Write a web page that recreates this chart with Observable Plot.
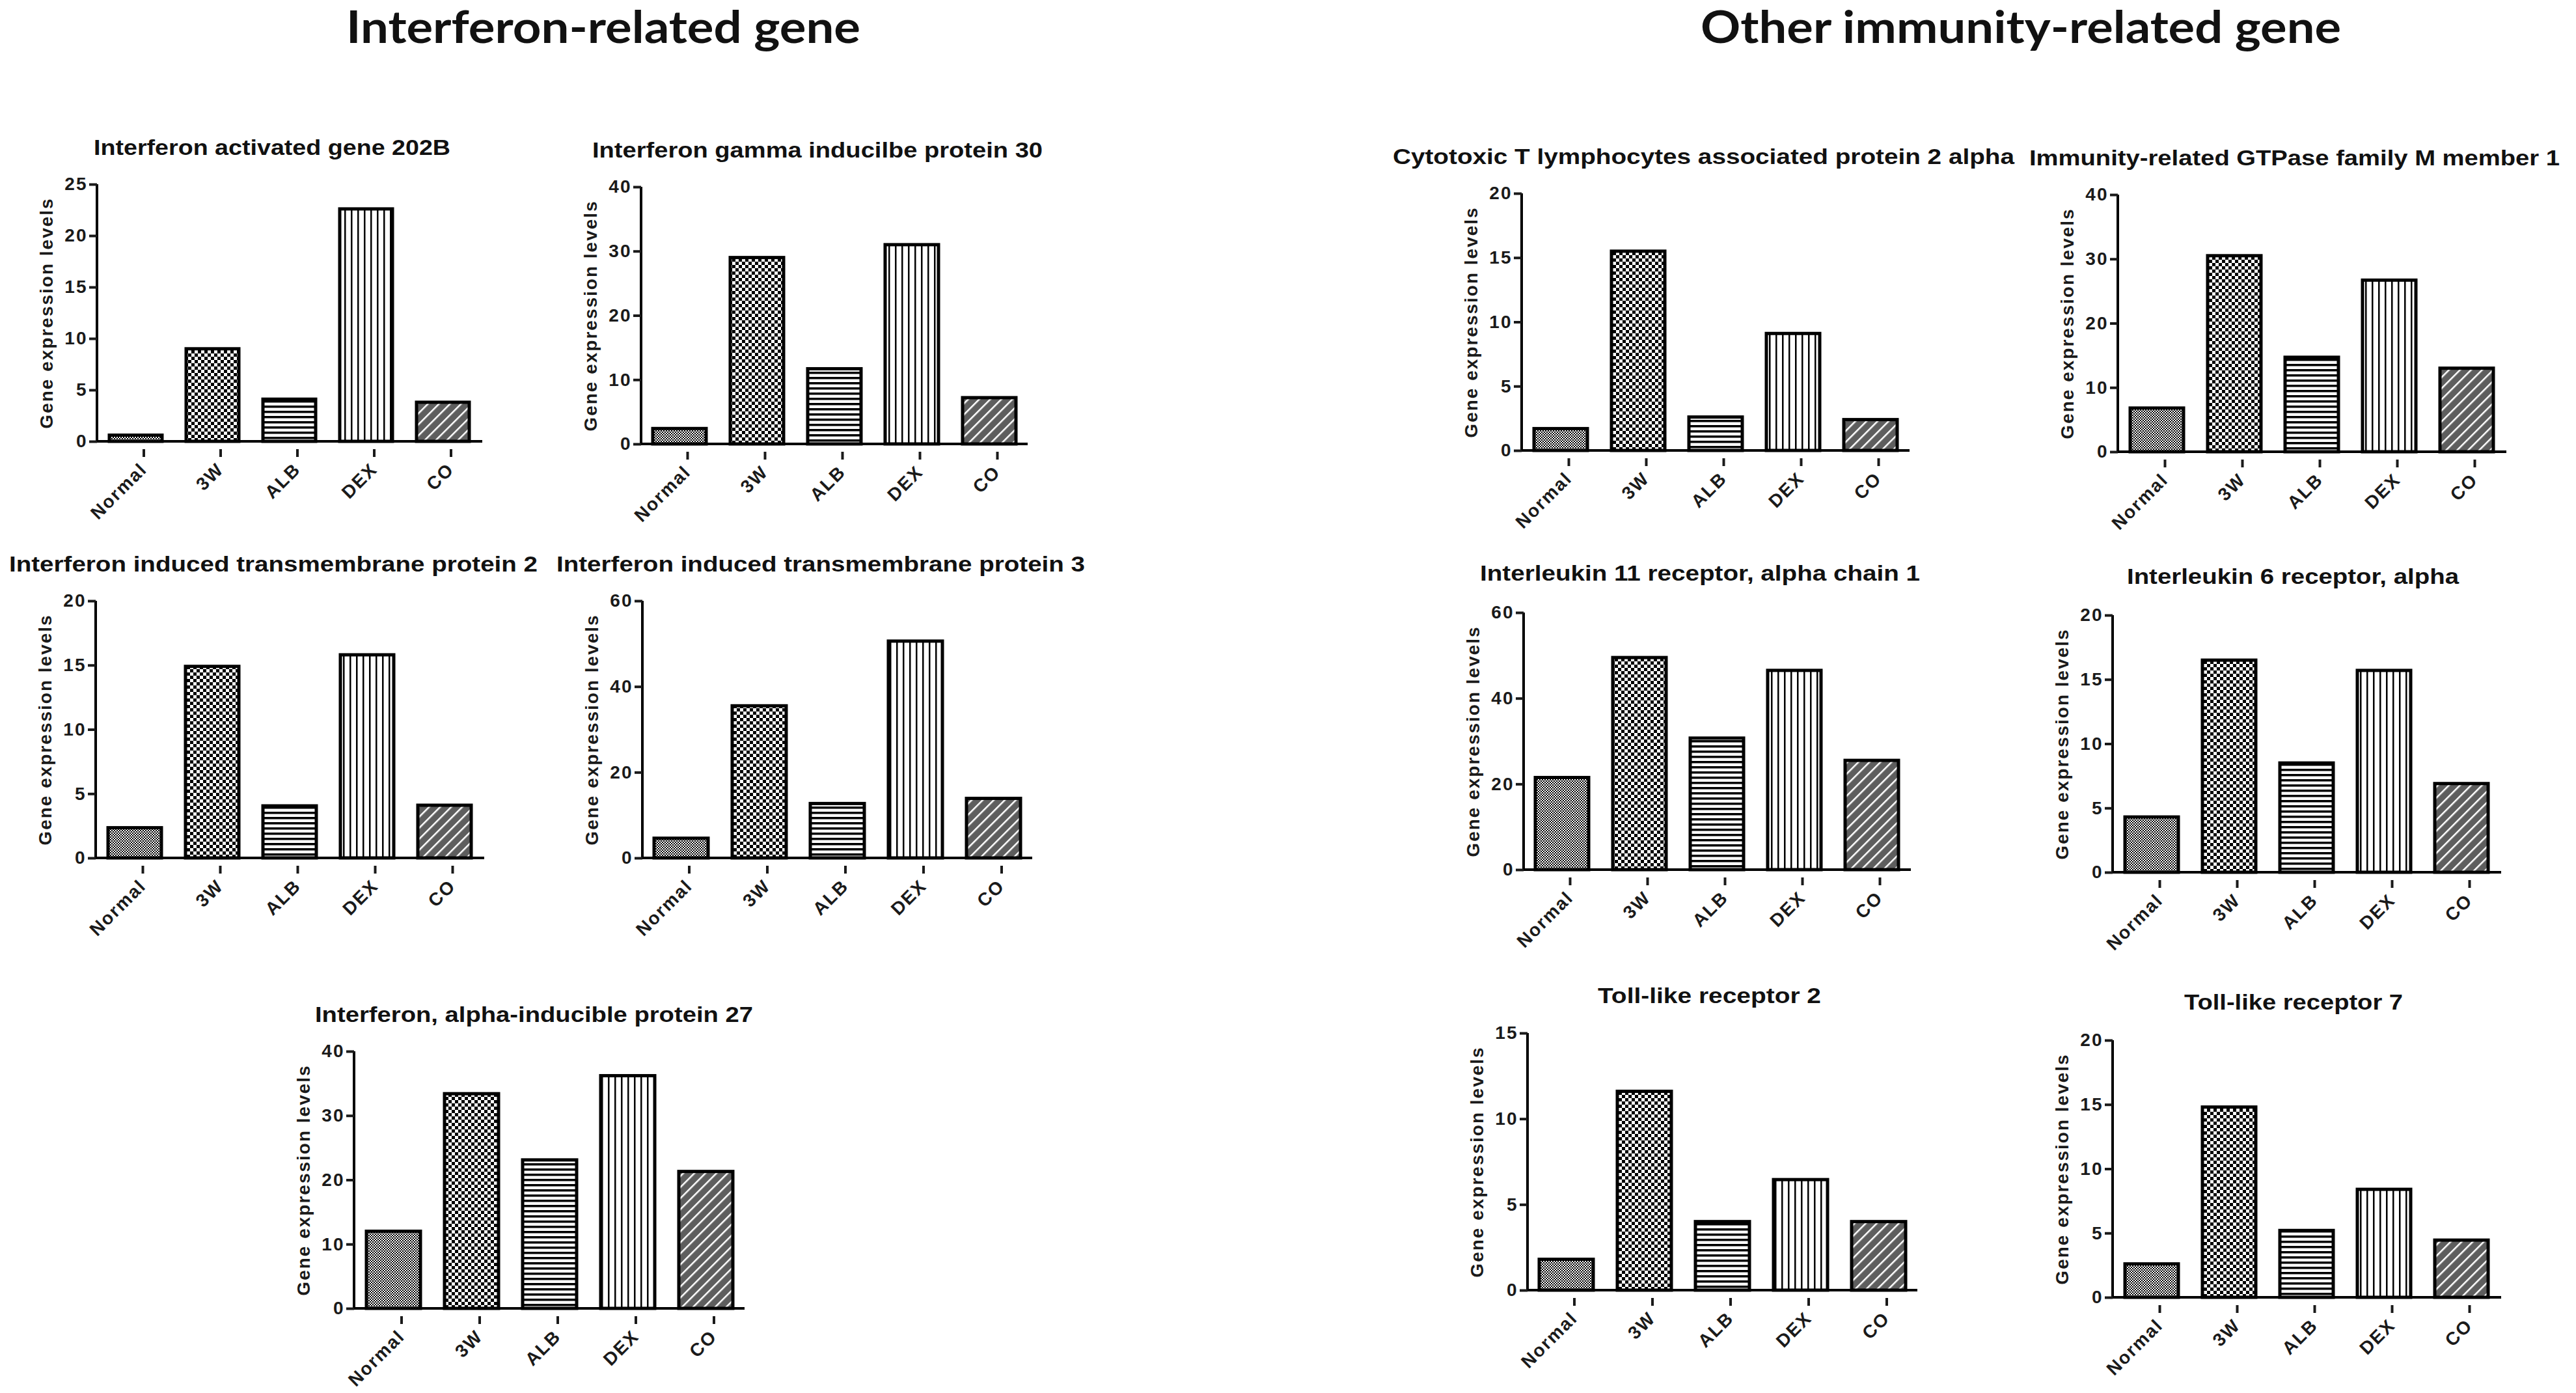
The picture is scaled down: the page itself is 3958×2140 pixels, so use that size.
<!DOCTYPE html>
<html><head><meta charset="utf-8">
<script src="https://cdn.jsdelivr.net/npm/d3@7"></script>
<script src="https://cdn.jsdelivr.net/npm/@observablehq/plot@0.6"></script>
<style>
html,body{margin:0;padding:0;background:#fff;}
#page{position:relative;width:3958px;height:2140px;overflow:hidden;background:#fff;}
.panel{position:absolute;}
</style></head>
<body><div id="page"></div>
<script>
// ---------- data ----------
const groups = ["Normal", "3W", "ALB", "DEX", "CO"];
const sectionTitles = ["Interferon-related gene", "Other immunity-related gene"];
const panelTitles = [
  "Interferon activated gene 202B",
  "Interferon gamma inducilbe protein 30",
  "Interferon induced transmembrane protein 2",
  "Interferon induced transmembrane protein 3",
  "Interferon, alpha-inducible protein 27",
  "Cytotoxic T lymphocytes associated protein 2 alpha",
  "Immunity-related GTPase family M member 1",
  "Interleukin 11 receptor, alpha chain 1",
  "Interleukin 6 receptor, alpha",
  "Toll-like receptor 2",
  "Toll-like receptor 7"
];
const yLabel = "Gene expression levels";
const ifi202b = [0.6, 9.0, 4.1, 22.6, 3.8];
const ifi30   = [2.4, 29.0, 11.7, 31.0, 7.2];
const ifitm2  = [2.35, 14.9, 4.05, 15.8, 4.1];
const ifitm3  = [4.6, 35.5, 12.7, 50.6, 13.9];
const ifi27   = [12.0, 33.4, 23.1, 36.2, 21.3];
const ctla2a  = [1.7, 15.5, 2.6, 9.1, 2.4];
const irgm1   = [6.8, 30.5, 14.7, 26.7, 13.0];
const il11ra1 = [21.5, 49.5, 30.7, 46.5, 25.5];
const il6ra   = [4.3, 16.5, 8.5, 15.7, 6.9];
const tlr2    = [1.8, 11.6, 4.0, 6.45, 4.0];
const tlr7    = [2.6, 14.8, 5.2, 8.4, 4.45];
const seriesList = [ifi202b, ifi30, ifitm2, ifitm3, ifi27, ctla2a, irgm1, il11ra1, il6ra, tlr2, tlr7];
const yTicks = [
  [0, 5, 10, 15, 20, 25],
  [0, 10, 20, 30, 40],
  [0, 5, 10, 15, 20],
  [0, 20, 40, 60],
  [0, 10, 20, 30, 40],
  [0, 5, 10, 15, 20],
  [0, 10, 20, 30, 40],
  [0, 20, 40, 60],
  [0, 5, 10, 15, 20],
  [0, 5, 10, 15],
  [0, 5, 10, 15, 20]
];

// ---------- layout (page pixels) ----------
// [axis x, top of y axis, plot width]
const frames = [
  [149, 283, 592], [985, 287, 594], [147, 923, 597], [987, 923, 599], [544, 1615, 600],
  [2338, 297, 596], [3254, 299, 597], [2341, 941, 595], [3246, 945, 597], [2347, 1587, 599], [3246, 1598, 597]
];
const plotH = 395;
// [x start, x end, baseline]
const titleBoxes = [
  [144, 692, 238], [910, 1602, 242], [14, 826, 878], [855, 1667, 878], [484, 1157, 1570],
  [2140, 3095, 252], [3118, 3933, 254], [2274, 2950, 892], [3268, 3778, 897], [2455, 2798, 1541], [3356, 3692, 1551]
];
const sectionBoxes = [[532, 1322, 66], [2613, 3597, 66]];

const patternIds = {Normal: "p-normal", "3W": "p-3w", ALB: "p-alb", DEX: "p-dex", CO: "p-co"};

// ---------- page ----------
const W = 3958, H = 2140;
const ns = "http://www.w3.org/2000/svg";
const page = document.getElementById("page");

const overlay = document.createElementNS(ns, "svg");
overlay.setAttribute("width", W);
overlay.setAttribute("height", H);
overlay.style.cssText = "position:absolute;left:0;top:0;pointer-events:none;z-index:2;";
overlay.innerHTML = `
<defs>
  <pattern id="p-normal" patternUnits="userSpaceOnUse" width="4" height="4">
    <rect width="4" height="4" fill="#fff"/>
    <rect x="0" y="0" width="2" height="2" fill="#000"/>
    <rect x="2" y="2" width="2" height="2" fill="#000"/>
  </pattern>
  <pattern id="p-3w" patternUnits="userSpaceOnUse" width="10" height="10">
    <rect width="10" height="10" fill="#fff"/>
    <rect x="0" y="0" width="5" height="5" fill="#000"/>
    <rect x="5" y="5" width="5" height="5" fill="#000"/>
  </pattern>
  <pattern id="p-alb" patternUnits="userSpaceOnUse" width="8" height="8">
    <rect width="8" height="8" fill="#fff"/>
    <rect x="0" y="0" width="8" height="3.5" fill="#000"/>
  </pattern>
  <pattern id="p-dex" patternUnits="userSpaceOnUse" width="10" height="10">
    <rect width="10" height="10" fill="#fff"/>
    <rect x="0" y="0" width="2.5" height="10" fill="#000"/>
  </pattern>
  <pattern id="p-co" patternUnits="userSpaceOnUse" width="12" height="12" patternTransform="rotate(45)">
    <rect width="12" height="12" fill="#5e5e5e"/>
    <rect x="0" y="0" width="2.5" height="12" fill="#fff"/>
  </pattern>
</defs>`;
page.appendChild(overlay);

function addText(str, x0, x1, base, family, size, weight) {
  const t = document.createElementNS(ns, "text");
  t.setAttribute("x", x0);
  t.setAttribute("y", base);
  t.setAttribute("textLength", x1 - x0);
  t.setAttribute("lengthAdjust", "spacingAndGlyphs");
  t.setAttribute("font-family", family);
  t.setAttribute("font-size", size);
  t.setAttribute("font-weight", weight);
  t.setAttribute("fill", "#111");
  t.textContent = str;
  overlay.appendChild(t);
}
sectionTitles.forEach((s, i) => {
  const [a, b, base] = sectionBoxes[i];
  addText(s, a, b, base, "Lato, 'Open Sans', sans-serif", 68, "bold");
});
panelTitles.forEach((s, i) => {
  const [a, b, base] = titleBoxes[i];
  addText(s, a, b, base, "'Liberation Sans', Arial, sans-serif", 33, "bold");
});

function axisLines(index, scales, values, dims) {
  const p = document.createElementNS(ns, "path");
  const x0 = dims.marginLeft, y0 = dims.marginTop;
  const y1 = dims.height - dims.marginBottom, x1 = dims.width - dims.marginRight;
  p.setAttribute("d", `M${x0},${y0}V${y1}H${x1}`);
  p.setAttribute("fill", "none");
  p.setAttribute("stroke", "#000");
  p.setAttribute("stroke-width", 4);
  return p;
}

const mL = 120, mR = 30, mT = 20, mB = 170;
seriesList.forEach((vals, i) => {
  const [ax, top, w] = frames[i];
  const data = groups.map((g, j) => ({group: g, value: vals[j]}));
  const ticks = yTicks[i];
  const chart = Plot.plot({
    width: mL + w + mR,
    height: mT + plotH + mB,
    marginLeft: mL, marginRight: mR, marginTop: mT, marginBottom: mB,
    style: {
      background: "transparent",
      fontFamily: "'Liberation Sans', Arial, sans-serif",
      fontSize: "28px",
      fontWeight: "bold",
      letterSpacing: "2px",
      color: "#1a1a1a",
      overflow: "visible"
    },
    x: {domain: groups, paddingInner: 0.31, paddingOuter: 0.15, label: null},
    y: {domain: [0, ticks[ticks.length - 1]], label: null},
    color: {type: "identity"},
    marks: [
      Plot.barY(data, {x: "group", y: "value", fill: d => `url(#${patternIds[d.group]})`, stroke: "#000", strokeWidth: 5}),
      axisLines,
      Plot.axisY({ticks, tickSize: 12, tickPadding: 3, strokeWidth: 4, label: yLabel, labelAnchor: "center", labelArrow: false, labelOffset: 88}),
      Plot.axisX({tickSize: 12, tickPadding: 14, tickRotate: -45, strokeWidth: 4, dx: 12, dy: 12, label: null})
    ]
  });
  const div = document.createElement("div");
  div.className = "panel";
  div.style.left = (ax - mL) + "px";
  div.style.top = (top - mT) + "px";
  div.appendChild(chart);
  page.appendChild(div);
});
</script>
</body></html>
